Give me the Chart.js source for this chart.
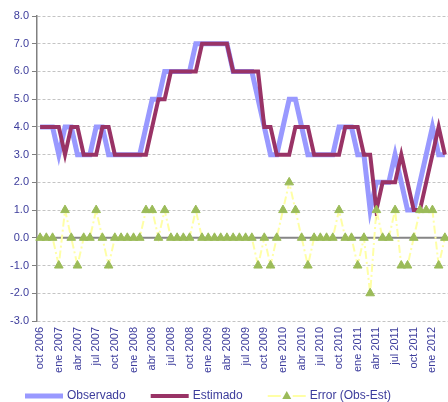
<!DOCTYPE html>
<html>
<head>
<meta charset="utf-8">
<script src="https://cdn.jsdelivr.net/npm/chart.js@4/dist/chart.umd.min.js"></script>
<style>
  html, body { margin: 0; padding: 0; background: #fff; overflow: hidden; }
  #wrap { width: 454px; height: 402px; position: relative; }
</style>
</head>
<body>
<div id="wrap"><canvas id="chart"></canvas></div>
<script>
// months, oct 2006 .. mar 2012
const months = [
  'oct 2006', 'nov 2006', 'dic 2006',
  'ene 2007', 'feb 2007', 'mar 2007', 'abr 2007', 'may 2007', 'jun 2007',
  'jul 2007', 'ago 2007', 'sep 2007', 'oct 2007', 'nov 2007', 'dic 2007',
  'ene 2008', 'feb 2008', 'mar 2008', 'abr 2008', 'may 2008', 'jun 2008',
  'jul 2008', 'ago 2008', 'sep 2008', 'oct 2008', 'nov 2008', 'dic 2008',
  'ene 2009', 'feb 2009', 'mar 2009', 'abr 2009', 'may 2009', 'jun 2009',
  'jul 2009', 'ago 2009', 'sep 2009', 'oct 2009', 'nov 2009', 'dic 2009',
  'ene 2010', 'feb 2010', 'mar 2010', 'abr 2010', 'may 2010', 'jun 2010',
  'jul 2010', 'ago 2010', 'sep 2010', 'oct 2010', 'nov 2010', 'dic 2010',
  'ene 2011', 'feb 2011', 'mar 2011', 'abr 2011', 'may 2011', 'jun 2011',
  'jul 2011', 'ago 2011', 'sep 2011', 'oct 2011', 'nov 2011', 'dic 2011',
  'ene 2012', 'feb 2012', 'mar 2012'
];

const observado = [
  4, 4, 4, 3, 4, 4, 3, 3, 3, 4, 4, 3, 3, 3, 3, 3, 3, 4, 5, 5, 6, 6,
  6, 6, 6, 7, 7, 7, 7, 7, 7, 6, 6, 6, 6, 5, 4, 3, 3, 4, 5, 5, 4, 3,
  3, 3, 3, 3, 4, 4, 4, 3, 3, 1, 2, 2, 2, 3, 2, 1, 1, 2, 3, 4, 3, 3
];

const estimado = [
  4, 4, 4, 4, 3, 4, 4, 3, 3, 3, 4, 4, 3, 3, 3, 3, 3, 3, 4, 5, 5, 6,
  6, 6, 6, 6, 7, 7, 7, 7, 7, 6, 6, 6, 6, 6, 4, 4, 3, 3, 3, 4, 4, 4,
  3, 3, 3, 3, 3, 4, 4, 4, 3, 3, 1, 2, 2, 2, 3, 2, 1, 1, 2, 3, 4, 3
];

const error = [
  0, 0, 0, -1, 1, 0, -1, 0, 0, 1, 0, -1, 0, 0, 0, 0, 0, 1, 1, 0, 1, 0,
  0, 0, 0, 1, 0, 0, 0, 0, 0, 0, 0, 0, 0, -1, 0, -1, 0, 1, 2, 1, 0, -1,
  0, 0, 0, 0, 1, 0, 0, -1, 0, -2, 1, 0, 0, 1, -1, -1, 0, 1, 1, 1, -1, 0
];

const seriesNames = ['Observado', 'Estimado', 'Error (Obs-Est)'];

const labelColor = '#3c3c9c';
const font = '"Liberation Sans", Arial, sans-serif';

// solid grey line at zero (excel horizontal axis)
const zeroLine = {
  id: 'zeroLine',
  beforeDatasetsDraw(chart) {
    const { ctx, chartArea } = chart;
    const y = chart.scales.y.getPixelForValue(0);
    ctx.save();
    ctx.strokeStyle = '#868686';
    ctx.lineWidth = 2;
    ctx.beginPath();
    ctx.moveTo(chartArea.left, y);
    ctx.lineTo(chartArea.right, y);
    ctx.stroke();
    ctx.restore();
  }
};

// excel style legend at the bottom
const bottomLegend = {
  id: 'bottomLegend',
  afterDraw(chart) {
    const ctx = chart.ctx;
    const y = 396;
    let x = 25;
    ctx.save();
    ctx.font = '12px ' + font;
    ctx.textBaseline = 'middle';
    chart.data.datasets.forEach(ds => {
      const w = 38;
      if (ds.pointStyle === 'triangle') {
        ctx.strokeStyle = ds.borderColor;
        ctx.lineWidth = 2;
        ctx.beginPath();
        ctx.moveTo(x, y); ctx.lineTo(x + 13, y);
        ctx.moveTo(x + 25, y); ctx.lineTo(x + w, y);
        ctx.stroke();
        ctx.fillStyle = ds.pointBackgroundColor;
        const cx = x + w / 2;
        ctx.beginPath();
        ctx.moveTo(cx, y - 5);
        ctx.lineTo(cx + 4.5, y + 3);
        ctx.lineTo(cx - 4.5, y + 3);
        ctx.closePath();
        ctx.fill();
      } else {
        ctx.strokeStyle = ds.borderColor;
        ctx.lineWidth = ds.borderWidth;
        ctx.beginPath();
        ctx.moveTo(x, y); ctx.lineTo(x + w, y);
        ctx.stroke();
      }
      ctx.fillStyle = labelColor;
      ctx.fillText(ds.label, x + w + 4, y);
      x += w + 4 + ctx.measureText(ds.label).width + 25;
    });
    ctx.restore();
  }
};

new Chart(document.getElementById('chart'), {
  type: 'line',
  data: {
    labels: months,
    datasets: [
      {
        label: seriesNames[0],
        data: observado,
        borderColor: '#9999ff',
        backgroundColor: '#9999ff',
        borderWidth: 5,
        pointRadius: 0,
        tension: 0,
        order: 3
      },
      {
        label: seriesNames[1],
        data: estimado,
        borderColor: '#993366',
        backgroundColor: '#993366',
        borderWidth: 4,
        pointRadius: 0,
        tension: 0,
        order: 2
      },
      {
        label: seriesNames[2],
        data: error,
        borderColor: '#ffffa6',
        borderWidth: 2,
        borderDash: [8, 3, 2, 3],
        pointStyle: 'triangle',
        pointRadius: 5,
        pointBackgroundColor: '#9bbb59',
        pointBorderColor: '#9bbb59',
        pointBorderWidth: 1,
        tension: 0,
        clip: false,
        order: 1
      }
    ]
  },
  options: {
    responsive: true,
    maintainAspectRatio: false,
    animation: false,
    layout: { padding: { top: 16, right: 0, bottom: 23, left: 0 } },
    plugins: {
      legend: { display: false },
      tooltip: { enabled: false }
    },
    scales: {
      x: {
        offset: true,
        grid: { display: false, drawTicks: false },
        border: { display: false },
        ticks: {
          autoSkip: false,
          minRotation: 90,
          maxRotation: 90,
          padding: 6,
          color: labelColor,
          font: { family: font, size: 11 },
          callback: function (v, i) { return i % 3 === 0 ? this.getLabelForValue(v) : null; }
        },
        afterFit(scale) { scale.height = 58; }
      },
      y: {
        min: -3,
        max: 8,
        ticks: {
          stepSize: 1,
          padding: 3,
          color: labelColor,
          font: { family: font, size: 11 },
          callback: v => v.toFixed(1)
        },
        grid: {
          color: '#c4c4c4',
          lineWidth: 1,
          tickLength: 5,
          tickColor: '#808080'
        },
        border: { color: '#808080', width: 1.5, dash: [3, 2] },
        afterFit(scale) { scale.width = 37; }
      }
    }
  },
  plugins: [zeroLine, bottomLegend]
});
</script>
</body>
</html>
